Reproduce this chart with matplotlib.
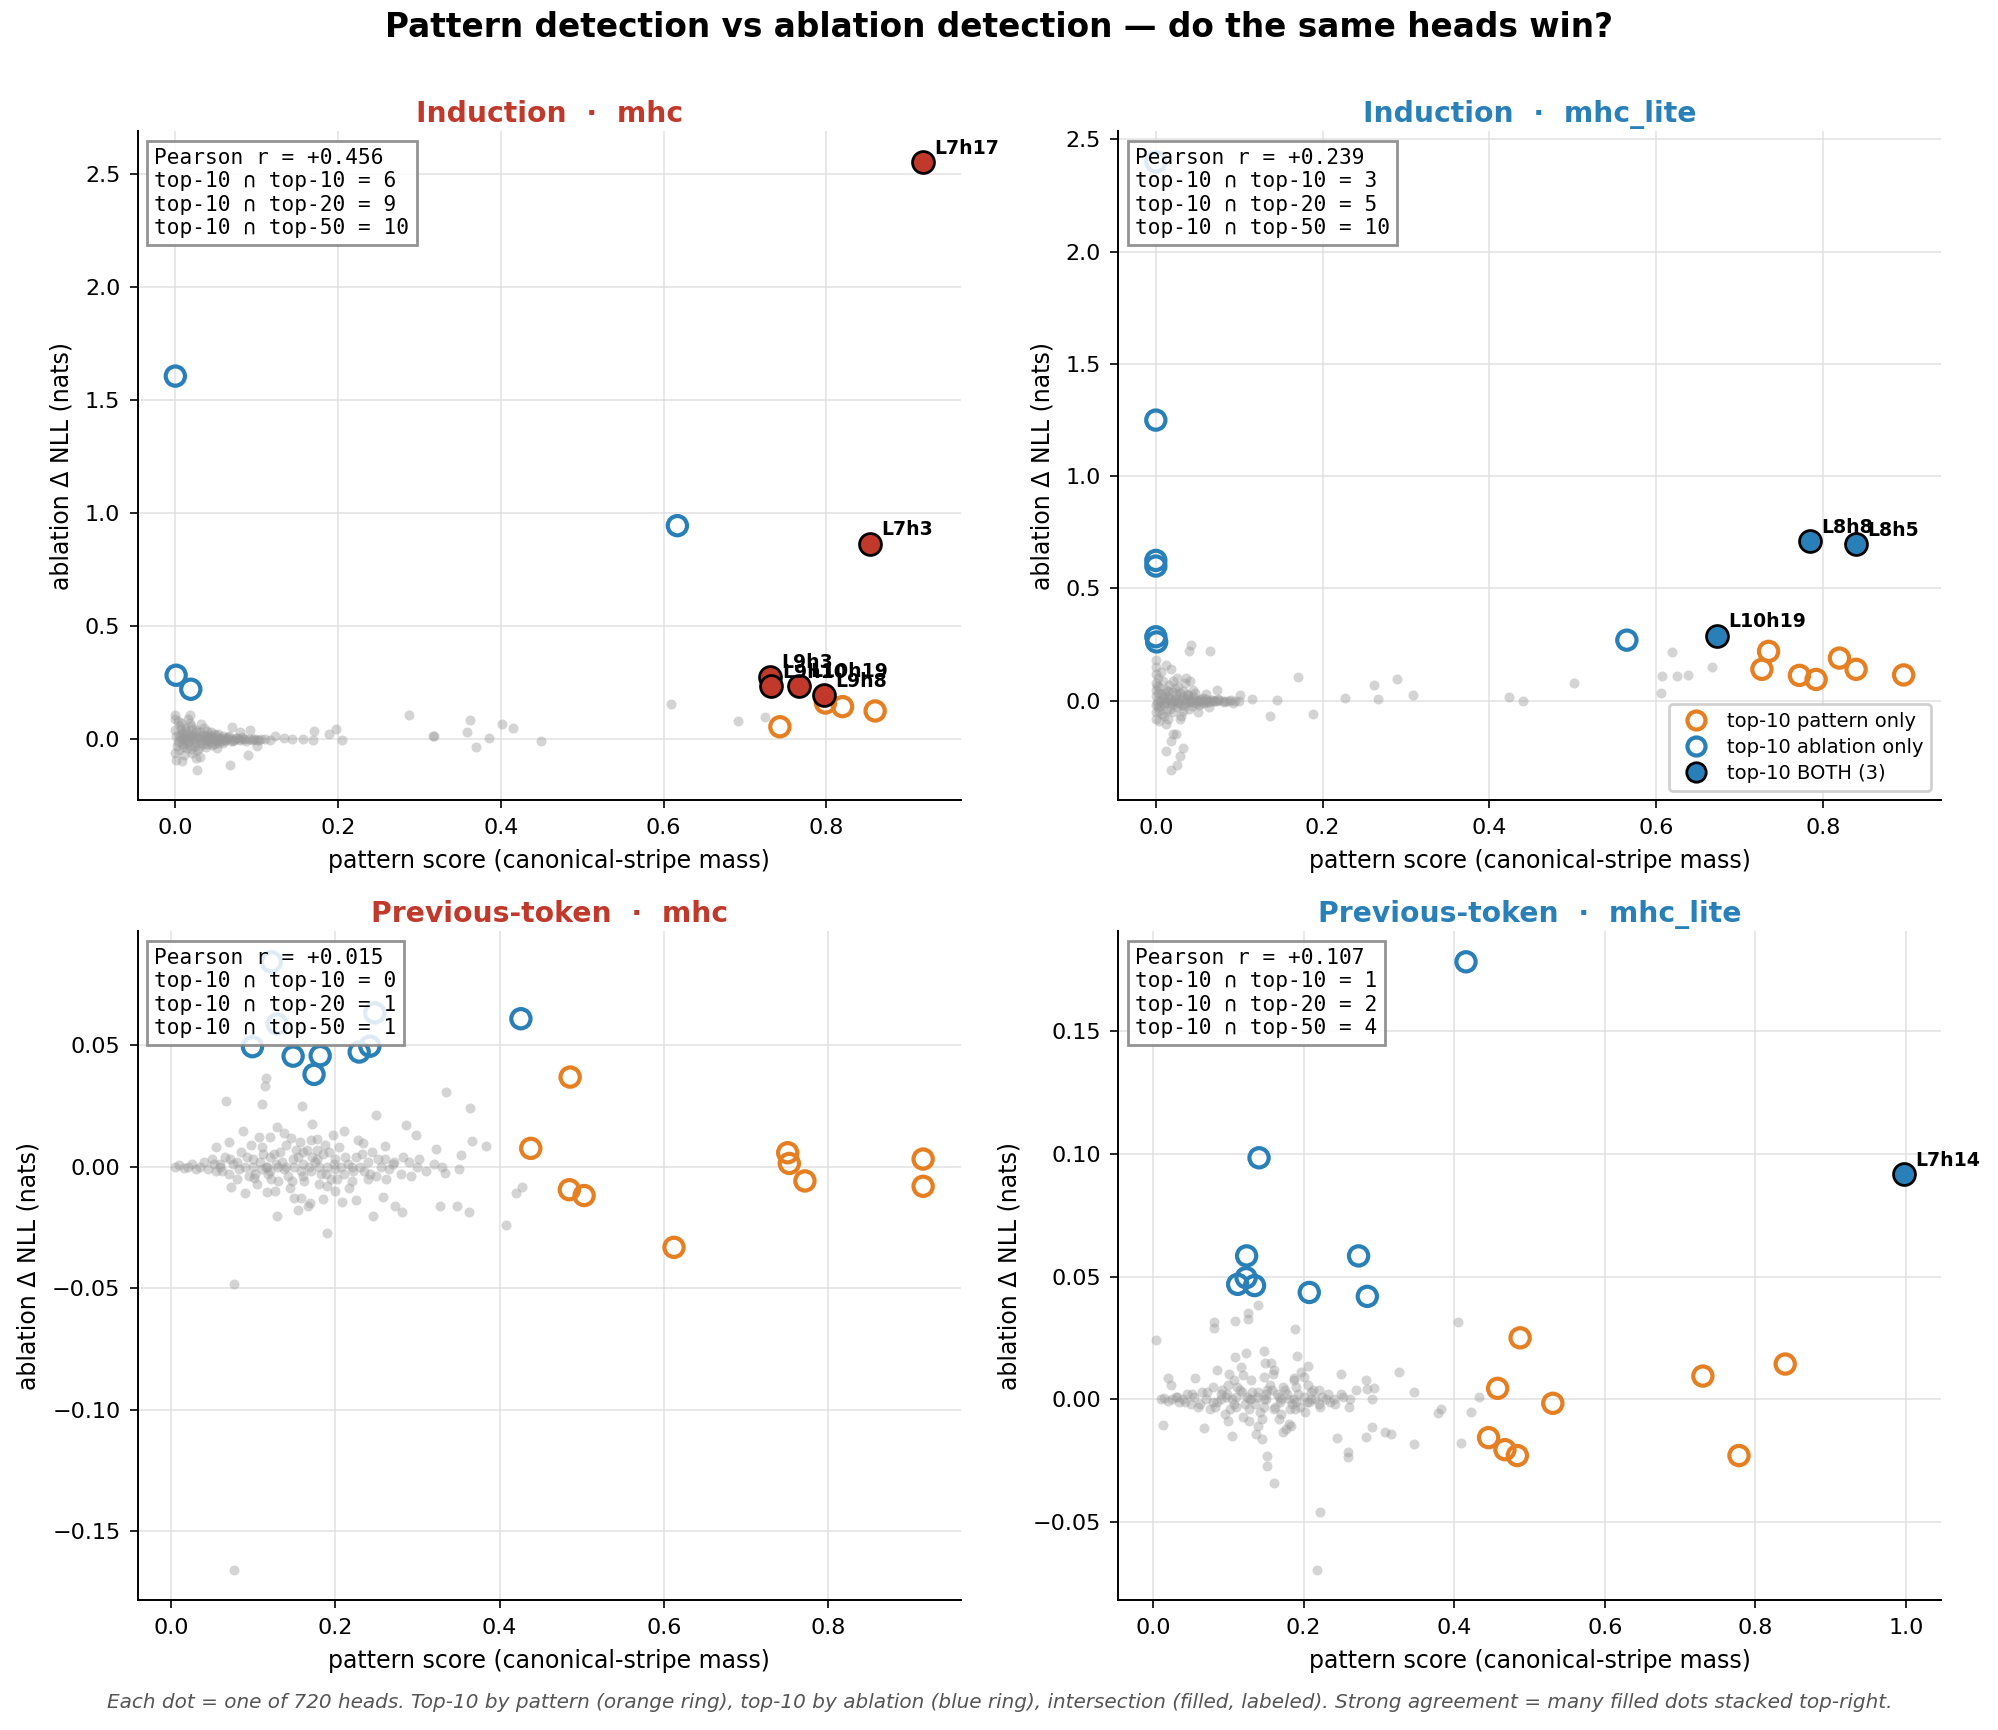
import numpy as np
import matplotlib
matplotlib.use("Agg")
import matplotlib.pyplot as plt
from matplotlib.lines import Line2D

RED = "#c0392b"
BLUE = "#2980b9"
ORANGE = "#e67e22"

PANEL_TITLES = ["Induction  ·  mhc", "Induction  ·  mhc_lite",
                "Previous-token  ·  mhc", "Previous-token  ·  mhc_lite"]
PANEL_COLORS = [RED, BLUE, RED, BLUE]
PEARSON = [0.456, 0.239, 0.015, 0.107]
OVERLAP_10 = [6, 3, 0, 1]
OVERLAP_20 = [9, 5, 1, 2]
OVERLAP_50 = [10, 10, 1, 4]

# ---- top-10 pattern only (orange rings)
PATTERN_ONLY = [
    [(0.743, 0.055), (0.799, 0.160), (0.820, 0.144), (0.860, 0.125)],
    [(0.735, 0.220), (0.727, 0.140), (0.772, 0.113), (0.792, 0.095),
     (0.820, 0.190), (0.840, 0.140), (0.897, 0.115)],
    [(0.486, 0.0368), (0.438, 0.0075), (0.485, -0.0095), (0.503, -0.0119),
     (0.6125, -0.0332), (0.751, 0.0057), (0.753, 0.0013), (0.772, -0.0059),
     (0.916, 0.0031), (0.916, -0.0081)],
    [(0.4876, 0.0251), (0.4577, 0.0045), (0.531, -0.0016), (0.4457, -0.0156),
     (0.4674, -0.0205), (0.4839, -0.0229), (0.7303, 0.0095), (0.8397, 0.0144),
     (0.7783, -0.0229)],
]

# ---- top-10 ablation only (blue rings)
ABLATION_ONLY = [
    [(0.000, 1.607), (0.617, 0.945), (0.001, 0.283), (0.019, 0.221)],
    [(0.000, 2.400), (0.000, 1.250), (0.000, 0.625), (0.000, 0.600),
     (0.000, 0.285), (0.001, 0.262), (0.565, 0.270)],
    [(0.122, 0.0842), (0.129, 0.0586), (0.248, 0.0632), (0.099, 0.0493),
     (0.1485, 0.0454), (0.1815, 0.0456), (0.174, 0.0379), (0.229, 0.0471),
     (0.242, 0.0495), (0.426, 0.0608)],
    [(0.4157, 0.1784), (0.1408, 0.0985), (0.1243, 0.0585), (0.273, 0.0585),
     (0.1124, 0.0469), (0.1236, 0.0496), (0.1348, 0.0464), (0.2075, 0.0436),
     (0.2846, 0.0420)],
]

# ---- top-10 in both (filled, labeled)
BOTH = [
    [("L7h17", 0.919, 2.555), ("L7h3", 0.854, 0.866), ("L9h3", 0.731, 0.277),
     ("L9h10", 0.732, 0.234), ("L10h19", 0.767, 0.237), ("L9h8", 0.797, 0.194)],
    [("L8h8", 0.785, 0.712), ("L8h5", 0.840, 0.698), ("L10h19", 0.673, 0.290)],
    [],
    [("L7h14", 0.997, 0.0918)],
]

# ---- remaining heads (grey dots)
GRAY_TL = [
    (0.287, 0.106), (0.318, 0.012), (0.362, 0.084), (0.358, 0.032), (0.369, -0.036),
    (0.386, 0.004), (0.401, 0.068), (0.415, 0.048), (0.449, -0.007), (0.171, 0.038),
    (0.189, 0.023), (0.198, 0.043), (0.205, -0.004), (0.169, -0.004), (0.157, 0.001),
    (0.144, 0.001), (0.133, 0.006), (0.122, 0.014), (0.116, -0.003), (0.103, -0.003),
    (0.092, 0.040), (0.089, -0.069), (0.067, -0.116), (0.027, -0.136), (0.008, -0.097),
    (0.000, -0.061), (0.000, 0.106), (0.018, 0.106), (0.031, 0.069), (0.025, -0.082),
    (0.100, -0.029), (0.070, 0.055), (0.080, 0.033), (0.051, -0.039), (0.609, 0.154),
    (0.692, 0.079), (0.725, 0.099), (0.317, 0.012),
    (0.000, 0.040), (0.002, -0.030), (0.004, 0.020), (0.005, -0.050), (0.006, 0.060),
    (0.008, 0.000), (0.010, -0.020), (0.010, 0.030), (0.012, 0.050), (0.014, -0.040),
    (0.015, 0.010), (0.016, -0.010), (0.018, 0.070), (0.020, 0.000), (0.020, -0.060),
    (0.022, 0.020), (0.024, -0.030), (0.025, 0.040), (0.026, -0.015), (0.028, 0.010),
    (0.030, -0.080), (0.030, 0.030), (0.032, 0.000), (0.034, -0.020), (0.035, 0.050),
    (0.036, 0.015), (0.038, -0.035), (0.040, 0.020), (0.040, -0.010), (0.042, 0.000),
    (0.044, 0.030), (0.045, -0.025), (0.046, 0.010), (0.048, -0.005), (0.050, 0.020),
    (0.052, -0.015), (0.054, 0.005), (0.055, 0.000), (0.058, 0.012), (0.060, -0.010),
    (0.062, 0.004), (0.065, 0.008), (0.068, -0.006), (0.070, 0.002), (0.072, -0.003),
    (0.075, 0.006), (0.078, 0.000), (0.080, -0.004), (0.083, 0.003), (0.086, 0.000),
    (0.090, 0.002), (0.094, -0.002), (0.098, 0.001), (0.000, 0.090), (0.001, -0.090),
    (0.003, 0.080), (0.007, 0.070), (0.011, -0.070), (0.019, 0.060), (0.027, -0.050),
    (0.006, 0.010), (0.012, -0.005), (0.018, 0.015), (0.024, 0.000), (0.033, 0.008),
    (0.037, -0.004), (0.043, 0.012), (0.049, 0.003), (0.056, -0.006), (0.063, 0.000),
    (0.003, -0.012), (0.009, 0.022), (0.013, 0.035), (0.017, -0.025), (0.021, 0.045),
    (0.029, -0.040), (0.039, 0.035), (0.047, -0.020), (0.053, 0.025), (0.059, -0.015),
    (0.001, 0.015), (0.004, -0.008), (0.007, 0.045), (0.009, -0.035), (0.011, 0.005),
    (0.013, -0.015), (0.016, 0.025), (0.019, -0.045), (0.021, 0.012), (0.023, -0.006),
    (0.026, 0.032), (0.031, -0.012), (0.034, 0.018), (0.039, -0.022), (0.041, 0.006),
    (0.044, -0.012), (0.047, 0.022), (0.051, -0.008), (0.057, 0.006), (0.061, -0.004),
    (0.066, 0.012), (0.071, -0.009), (0.076, 0.004), (0.082, 0.008), (0.087, -0.006),
    (0.095, 0.003), (0.100, -0.002), (0.105, 0.002), (0.110, 0.000), (0.015, 0.090),
]

GRAY_TR = [
    (0.042, 0.250), (0.040, 0.220), (0.065, 0.220), (0.018, 0.140), (0.000, 0.150),
    (0.000, 0.180), (0.036, 0.100), (0.041, 0.090), (0.073, 0.050), (0.101, 0.025),
    (0.171, 0.108), (0.115, 0.007), (0.145, 0.003), (0.137, -0.070), (0.188, -0.061),
    (0.227, 0.013), (0.262, 0.071), (0.266, 0.009), (0.289, 0.096), (0.309, 0.025),
    (0.424, 0.015), (0.440, -0.002), (0.502, 0.077), (0.000, -0.080), (0.012, -0.105),
    (0.021, -0.148), (0.024, -0.148), (0.018, -0.180), (0.012, -0.224), (0.033, -0.209),
    (0.029, -0.245), (0.025, -0.286), (0.018, -0.308), (0.029, -0.080), (0.619, 0.216),
    (0.607, 0.112), (0.625, 0.112), (0.638, 0.116), (0.667, 0.152), (0.606, 0.036),
    (0.000, 0.120), (0.000, 0.080), (0.000, 0.050), (0.000, 0.020), (0.000, -0.020),
    (0.000, -0.050), (0.002, 0.100), (0.003, -0.030), (0.004, 0.060), (0.005, 0.000),
    (0.006, 0.030), (0.007, -0.060), (0.008, 0.090), (0.010, 0.010), (0.010, -0.020),
    (0.012, 0.050), (0.013, -0.040), (0.015, 0.020), (0.016, 0.070), (0.018, -0.010),
    (0.020, 0.040), (0.020, -0.050), (0.022, 0.000), (0.024, 0.030), (0.025, -0.030),
    (0.027, 0.060), (0.028, 0.010), (0.030, -0.020), (0.031, 0.020), (0.033, 0.045),
    (0.035, -0.010), (0.036, 0.000), (0.038, 0.025), (0.040, -0.035), (0.040, 0.010),
    (0.042, 0.000), (0.045, 0.020), (0.046, -0.010), (0.048, 0.005), (0.050, 0.000),
    (0.052, -0.020), (0.054, 0.010), (0.056, 0.000), (0.058, -0.008), (0.060, 0.006),
    (0.062, 0.000), (0.065, -0.005), (0.068, 0.004), (0.070, 0.000), (0.073, -0.003),
    (0.076, 0.002), (0.080, 0.000), (0.084, -0.002), (0.088, 0.001), (0.093, -0.010),
    (0.010, -0.070), (0.015, -0.080), (0.020, 0.090), (0.030, -0.070), (0.045, 0.050),
    (0.050, -0.050), (0.060, 0.030), (0.064, -0.030), (0.025, 0.100), (0.035, 0.080),
    (0.003, 0.005), (0.009, -0.008), (0.014, 0.004), (0.019, 0.000), (0.026, -0.004),
    (0.001, 0.065), (0.004, -0.045), (0.011, 0.035), (0.017, -0.035), (0.023, 0.055),
    (0.032, -0.045), (0.037, 0.030), (0.043, -0.025), (0.047, 0.035), (0.055, -0.012),
    (0.001, -0.010), (0.002, 0.035), (0.005, -0.025), (0.008, 0.015), (0.011, -0.005),
    (0.014, 0.045), (0.017, 0.008), (0.021, -0.015), (0.024, 0.012), (0.027, -0.008),
    (0.029, 0.035), (0.032, 0.004), (0.034, -0.025), (0.037, 0.012), (0.041, -0.005),
    (0.044, 0.008), (0.049, -0.012), (0.053, 0.004), (0.057, 0.012), (0.061, -0.004),
    (0.066, 0.002), (0.071, -0.002), (0.075, 0.006), (0.082, -0.004), (0.090, 0.002),
    (0.095, 0.000), (0.100, -0.002), (0.006, 0.130), (0.004, -0.090), (0.012, 0.160),
]

GRAY_BL = [
    (0.076, -0.1658), (0.076, -0.0482), (0.190, -0.0273), (0.129, -0.0203), (0.408, -0.0242),
    (0.420, -0.0108), (0.427, -0.0082), (0.363, -0.0187), (0.348, -0.0161), (0.327, -0.0161),
    (0.281, -0.0187), (0.273, -0.0161), (0.246, -0.0203), (0.335, 0.0308), (0.364, 0.0242),
    (0.249, 0.0211), (0.286, 0.0170), (0.298, 0.0128), (0.366, 0.0104), (0.383, 0.0086),
    (0.323, 0.0073), (0.353, 0.0046), (0.333, -0.0027), (0.350, -0.0009), (0.116, 0.0366),
    (0.114, 0.0330), (0.110, 0.0256), (0.067, 0.0269), (0.159, 0.0251), (0.171, 0.0174),
    (0.088, 0.0147), (0.129, 0.0161), (0.146, 0.0119), (0.177, 0.0114), (0.210, 0.0145),
    (0.234, 0.0097), (0.260, 0.0086), (0.055, 0.0082), (0.073, -0.0082), (0.117, -0.0104),
    (0.158, -0.0128), (0.185, -0.0134), (0.208, -0.0147), (0.225, -0.0137), (0.258, -0.0123),
    (0.154, -0.0180), (0.169, -0.0148), (0.101, -0.0046),
    (0.005, 0.000), (0.010, 0.0005), (0.015, -0.0005), (0.020, 0.000), (0.025, 0.001),
    (0.030, -0.001), (0.035, 0.000), (0.040, 0.002), (0.045, -0.001), (0.050, 0.003),
    (0.055, -0.002), (0.060, 0.000), (0.065, 0.004), (0.070, -0.003), (0.075, 0.001),
    (0.080, -0.005), (0.085, 0.006), (0.090, 0.000), (0.095, -0.004), (0.100, 0.003),
    (0.105, -0.007), (0.110, 0.008), (0.115, 0.000), (0.120, -0.002), (0.125, 0.005),
    (0.130, -0.006), (0.135, 0.002), (0.140, 0.009), (0.145, -0.009), (0.150, 0.000),
    (0.155, 0.004), (0.160, -0.004), (0.165, 0.007), (0.170, -0.002), (0.175, 0.002),
    (0.180, -0.007), (0.185, 0.005), (0.190, 0.000), (0.195, -0.005), (0.200, 0.003),
    (0.205, 0.008), (0.210, -0.003), (0.215, 0.001), (0.220, -0.006), (0.225, 0.004),
    (0.230, 0.000), (0.235, -0.002), (0.240, 0.002), (0.245, 0.006), (0.250, -0.004),
    (0.255, 0.000), (0.260, 0.003), (0.265, -0.001), (0.270, 0.001), (0.280, -0.003),
    (0.290, 0.002), (0.300, 0.000), (0.310, -0.002), (0.320, 0.001), (0.330, 0.000),
    (0.070, 0.010), (0.090, -0.011), (0.120, 0.012), (0.150, -0.013), (0.170, 0.011),
    (0.200, -0.010), (0.140, 0.000), (0.160, 0.001), (0.130, 0.000), (0.110, -0.001),
    (0.180, 0.000), (0.100, 0.000), (0.200, -0.001), (0.060, 0.001), (0.220, 0.000),
    (0.120, 0.004), (0.160, 0.006), (0.190, -0.008), (0.080, 0.002), (0.240, -0.005),
    (0.108, 0.002), (0.118, -0.003), (0.128, 0.001), (0.138, -0.001), (0.148, 0.003),
    (0.158, -0.002), (0.168, 0.000), (0.178, 0.003), (0.188, -0.003), (0.198, 0.001),
    (0.052, 0.001), (0.062, -0.002), (0.072, 0.003), (0.082, -0.001), (0.092, 0.004),
    (0.102, -0.003), (0.112, 0.005), (0.122, -0.005), (0.132, 0.006), (0.142, -0.004),
    (0.152, 0.007), (0.162, -0.006), (0.172, 0.004), (0.182, -0.003), (0.192, 0.006),
    (0.202, -0.005), (0.212, 0.004), (0.222, -0.002), (0.232, 0.005), (0.242, -0.003),
    (0.252, 0.003), (0.262, -0.005), (0.272, 0.002), (0.282, 0.004), (0.292, -0.004),
    (0.302, 0.003), (0.097, 0.009), (0.127, -0.010), (0.157, 0.010), (0.187, 0.009),
    (0.217, -0.009), (0.107, 0.012), (0.137, 0.014), (0.167, -0.016), (0.197, 0.013),
    (0.227, 0.011), (0.147, -0.006), (0.177, 0.007), (0.207, 0.000), (0.117, 0.000),
]

GRAY_BR = [
    (0.2172, -0.0695), (0.2217, -0.0460), (0.1603, -0.0340), (0.1513, -0.0273), (0.1513, -0.0231),
    (0.1446, -0.0160), (0.2584, -0.0215), (0.2584, -0.0236), (0.4052, 0.0315), (0.0037, 0.0242),
    (0.0809, 0.0315), (0.0816, 0.0291), (0.1094, 0.0318), (0.1258, 0.0327), (0.1258, 0.0353),
    (0.1400, 0.0385), (0.1888, 0.0287), (0.1910, 0.0178), (0.2060, 0.0136), (0.1086, 0.0173),
    (0.1236, 0.0191), (0.1468, 0.0196), (0.1483, 0.0147), (0.3273, 0.0113), (0.3461, 0.0031),
    (0.2502, 0.0105), (0.2824, 0.0078), (0.2929, 0.0047), (0.3783, -0.0055), (0.3820, -0.0038),
    (0.4217, -0.0053), (0.4097, -0.0176), (0.3461, -0.0182), (0.3161, -0.0140), (0.3079, -0.0131),
    (0.2914, -0.0113), (0.2449, -0.0158), (0.2824, -0.0153), (0.4330, 0.0009), (0.0127, -0.0104),
    (0.0674, -0.0118), (0.1049, -0.0151), (0.1835, -0.0107), (0.1730, -0.0135), (0.0195, 0.0087),
    (0.0240, 0.0060), (0.0562, 0.0087), (0.0846, 0.0118), (0.1011, 0.0105), (0.1596, 0.0105),
    (0.1873, 0.0087), (0.2060, 0.0060), (0.2846, 0.0042), (0.2906, 0.0000),
    (0.010, 0.000), (0.015, 0.0005), (0.020, -0.0005), (0.025, 0.000), (0.030, 0.001),
    (0.035, -0.001), (0.040, 0.000), (0.045, 0.002), (0.050, -0.002), (0.055, 0.001),
    (0.060, -0.003), (0.065, 0.003), (0.070, 0.000), (0.075, -0.004), (0.080, 0.005),
    (0.085, -0.001), (0.090, 0.002), (0.095, -0.006), (0.100, 0.006), (0.105, 0.000),
    (0.110, -0.003), (0.115, 0.004), (0.120, -0.007), (0.125, 0.001), (0.130, 0.008),
    (0.135, -0.002), (0.140, 0.003), (0.145, -0.008), (0.150, 0.000), (0.155, 0.006),
    (0.160, -0.004), (0.165, 0.002), (0.170, -0.006), (0.175, 0.004), (0.180, 0.000),
    (0.185, -0.002), (0.190, 0.005), (0.195, -0.003), (0.200, 0.001), (0.205, -0.001),
    (0.210, 0.003), (0.215, 0.000), (0.220, -0.002), (0.225, 0.001), (0.230, 0.000),
    (0.235, -0.001), (0.240, 0.000), (0.250, 0.002), (0.260, -0.003), (0.270, 0.004),
    (0.120, 0.010), (0.140, -0.011), (0.160, 0.012), (0.180, -0.010), (0.100, -0.009),
    (0.200, 0.009), (0.130, 0.000), (0.170, 0.000), (0.110, 0.001), (0.190, -0.001),
    (0.150, 0.002), (0.090, 0.000), (0.210, 0.000), (0.080, -0.001), (0.220, 0.004),
    (0.098, 0.002), (0.108, -0.002), (0.118, 0.003), (0.128, -0.004), (0.138, 0.001),
    (0.148, -0.003), (0.158, 0.004), (0.168, -0.001), (0.178, 0.002), (0.188, -0.004),
    (0.032, 0.001), (0.042, -0.001), (0.052, 0.002), (0.062, -0.002), (0.072, 0.003),
    (0.082, -0.003), (0.092, 0.004), (0.102, -0.004), (0.112, 0.005), (0.122, -0.002),
    (0.132, 0.003), (0.142, -0.005), (0.152, 0.004), (0.162, -0.003), (0.172, 0.005),
    (0.182, -0.004), (0.192, 0.002), (0.202, -0.005), (0.212, 0.004), (0.222, -0.003),
    (0.232, 0.002), (0.242, -0.002), (0.252, 0.001), (0.262, 0.000), (0.107, 0.008),
    (0.127, -0.009), (0.147, 0.009), (0.167, -0.008), (0.187, 0.008), (0.117, 0.013),
    (0.137, -0.014), (0.157, 0.015), (0.177, -0.012), (0.197, 0.011), (0.127, 0.000),
    (0.147, 0.000), (0.167, 0.001), (0.187, 0.000), (0.207, -0.001), (0.097, 0.001),
]

GRAY = [GRAY_TL, GRAY_TR, GRAY_BL, GRAY_BR]


def plot_panel(ax, i):
    color = PANEL_COLORS[i]

    g = np.array(GRAY[i])
    ax.scatter(g[:, 0], g[:, 1], s=13, color="#999999", alpha=0.42, linewidths=0, zorder=2)

    p = np.array(PATTERN_ONLY[i])
    ax.scatter(p[:, 0], p[:, 1], s=48, facecolors="none", edgecolors=ORANGE,
               linewidths=1.5, zorder=3)

    a = np.array(ABLATION_ONLY[i])
    ax.scatter(a[:, 0], a[:, 1], s=48, facecolors="none", edgecolors=BLUE,
               linewidths=1.5, zorder=3)

    if BOTH[i]:
        bx = [b[1] for b in BOTH[i]]
        by = [b[2] for b in BOTH[i]]
        ax.scatter(bx, by, s=62, color=color, edgecolors="black", linewidths=1.0, zorder=4)
        for name, x, y in BOTH[i]:
            ax.annotate(name, (x, y), xytext=(4, 3), textcoords="offset points",
                        fontsize=6.8, fontweight="bold", zorder=5)

    stats = ("Pearson r = {:+.3f}\ntop-10 ∩ top-10 = {}\ntop-10 ∩ top-20 = {}\n"
             "top-10 ∩ top-50 = {}").format(PEARSON[i], OVERLAP_10[i],
                                              OVERLAP_20[i], OVERLAP_50[i])
    ax.text(0.02, 0.975, stats, transform=ax.transAxes, va="top", ha="left",
            family="DejaVu Sans Mono", fontsize=7.6, zorder=6,
            bbox=dict(boxstyle="square,pad=0.35", facecolor="white",
                      edgecolor="grey", alpha=0.85))

    ax.set_title(PANEL_TITLES[i], color=color, fontsize=10.2, fontweight="bold", pad=3.3)
    ax.set_xlabel("pattern score (canonical-stripe mass)", fontsize=8.5)
    ax.set_ylabel("ablation Δ NLL (nats)", fontsize=8.5)
    ax.tick_params(labelsize=8, width=0.6, length=2.8)
    ax.grid(True, color="#dddddd", linewidth=0.6, alpha=0.8)
    ax.set_axisbelow(True)
    ax.spines["top"].set_visible(False)
    ax.spines["right"].set_visible(False)
    ax.spines["left"].set_linewidth(0.7)
    ax.spines["bottom"].set_linewidth(0.7)


fig, axes = plt.subplots(2, 2, figsize=(9.995, 8.65), dpi=200)
plt.subplots_adjust(left=0.069, right=0.971, top=0.924, bottom=0.075,
                    wspace=0.192, hspace=0.196)

for i, ax in enumerate(axes.flat):
    plot_panel(ax, i)

handles = [
    Line2D([], [], marker="o", linestyle="none", markersize=6.5, markerfacecolor="none",
           markeredgecolor=ORANGE, markeredgewidth=1.5, label="top-10 pattern only"),
    Line2D([], [], marker="o", linestyle="none", markersize=6.5, markerfacecolor="none",
           markeredgecolor=BLUE, markeredgewidth=1.5, label="top-10 ablation only"),
    Line2D([], [], marker="o", linestyle="none", markersize=7, markerfacecolor=BLUE,
           markeredgecolor="black", markeredgewidth=1.0,
           label="top-10 BOTH ({})".format(len(BOTH[1]))),
]
axes[0, 1].legend(handles=handles, loc="lower right", fontsize=7, framealpha=0.9,
                  handletextpad=0.6, borderpad=0.4, labelspacing=0.35)

fig.suptitle("Pattern detection vs ablation detection — do the same heads win?",
             fontsize=11.8, fontweight="bold", y=0.984, va="center")
fig.text(0.5, 0.016, "Each dot = one of 720 heads. Top-10 by pattern (orange ring), top-10 by "
         "ablation (blue ring), intersection (filled, labeled). Strong agreement = many "
         "filled dots stacked top-right.", ha="center", va="center", fontsize=7.2,
         style="italic", color="#555555")

plt.savefig("out.png", dpi=200)
